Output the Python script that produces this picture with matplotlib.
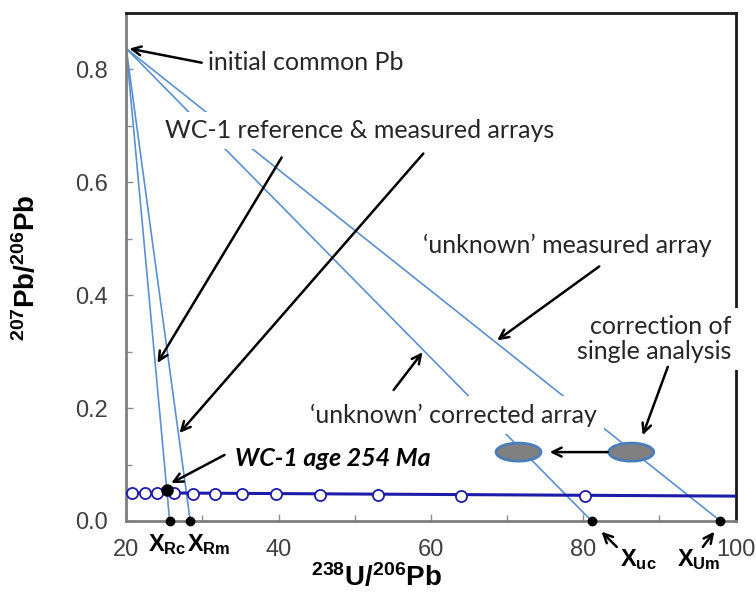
import matplotlib
matplotlib.use("Agg")
import matplotlib.pyplot as plt
from matplotlib.patches import Ellipse

plt.rcParams['mathtext.fontset'] = 'custom'
plt.rcParams['mathtext.rm'] = 'Liberation Sans'
plt.rcParams['mathtext.bf'] = 'Liberation Sans:bold'
plt.rcParams['mathtext.it'] = 'Liberation Sans:italic'

# data
common_pb = (20.0, 0.837)
array_names = ['WC-1 corrected', 'WC-1 measured', 'unknown corrected', 'unknown measured']
array_intercepts = [25.7, 28.4, 81.1, 98.0]

concordia_x = [20.0, 20.8, 22.4, 24.1, 26.3, 28.8, 31.7, 35.2, 39.7, 45.4, 53.1, 64.0, 80.2, 100.0]
concordia_y = [0.050, 0.050, 0.050, 0.049, 0.049, 0.048, 0.048, 0.047, 0.047, 0.046, 0.046, 0.045, 0.045, 0.044]
age_point = (25.3, 0.055)

ellipse_x = [71.5, 86.3]
ellipse_y = [0.122, 0.122]
ellipse_w = 5.9
ellipse_h = 0.032

xticks = [20, 40, 60, 80, 100]
yticks = [0.0, 0.2, 0.4, 0.6, 0.8]

line_blue = '#5b8fd0'
conc_blue = '#1c1ca8'
txt_col = '#262626'
ann_font = 'Lato'

fig = plt.figure(figsize=(7.56, 5.92), dpi=100)
ax = fig.add_axes([0.167, 0.12, 0.806, 0.858])
ax.set_xlim(20, 100)
ax.set_ylim(0, 0.9)

# mixing arrays from initial common Pb to the x-axis
for xi in array_intercepts:
    ax.plot([common_pb[0], xi], [common_pb[1], 0.0], color=line_blue, lw=1.2, zorder=2)
ax.plot(array_intercepts, [0.0] * len(array_intercepts), 'o', color='black', ms=6,
        clip_on=False, zorder=6)

# concordia with age ticks
ax.plot([concordia_x[0], concordia_x[-1]], [concordia_y[0], concordia_y[-1]],
        color=conc_blue, lw=2.2, zorder=3)
ax.plot(concordia_x[1:-1], concordia_y[1:-1], 'o', mfc='white', mec=conc_blue,
        mew=1.3, ms=8, zorder=4)
ax.plot(*age_point, 'o', color='black', ms=8, zorder=5)

for ex, ey in zip(ellipse_x, ellipse_y):
    ax.add_patch(Ellipse((ex, ey), ellipse_w, ellipse_h, fc='#808080',
                         ec='#4a7ebb', lw=2, zorder=5))

# annotation text with white boxes (hides the lines underneath)
box = dict(fc='white', ec='none', pad=5)
tkw = dict(fontsize=18, color=txt_col, family=ann_font, zorder=7, bbox=box)
ax.text(30.7, 0.812, 'initial common Pb', ha='left', va='center', **tkw)
ax.text(50.6, 0.692, 'WC-1 reference & measured arrays', ha='center', va='center', **tkw)
ax.text(77.9, 0.488, '\u2018unknown\u2019 measured array', ha='center', va='center', **tkw)
ax.text(63.0, 0.188, '\u2018unknown\u2019 corrected array', ha='center', va='center', **tkw)
ax.text(99.4, 0.322, 'correction of\nsingle analysis', ha='right', va='center',
        multialignment='right', linespacing=1.1, **tkw)
ax.text(34.3, 0.110, 'WC-1 age 254 Ma', ha='left', va='center', fontsize=18,
        color='black', family=ann_font, weight='bold', style='italic', zorder=7, bbox=box)

# arrows: (tail, head)
arrows = [
    ((29.9, 0.812), (20.4, 0.837)),
    ((40.4, 0.644), (24.1, 0.280)),
    ((59.0, 0.651), (27.0, 0.156)),
    ((82.1, 0.451), (68.7, 0.320)),
    ((55.1, 0.232), (58.9, 0.299)),
    ((91.1, 0.273), (87.8, 0.152)),
    ((32.9, 0.117), (25.9, 0.067)),
    ((83.2, 0.122), (75.6, 0.122)),
    ((84.4, -0.046), (82.4, -0.019)),
    ((95.7, -0.046), (97.2, -0.019)),
]
for tail, head in arrows:
    ax.annotate('', xy=head, xytext=tail, annotation_clip=False,
                arrowprops=dict(arrowstyle='->,head_length=0.65,head_width=0.32',
                                lw=1.8, color='black', shrinkA=0, shrinkB=0),
                zorder=8)

# intercept labels
xkw = dict(fontsize=17, color='black', ha='center', va='center', annotation_clip=False)
ax.annotate(r'$\mathbf{X_{Rc}}$', xy=(25.4, -0.041), **xkw)
ax.annotate(r'$\mathbf{X_{Rm}}$', xy=(30.9, -0.041), **xkw)
ax.annotate(r'$\mathbf{X_{uc}}$', xy=(87.2, -0.069), **xkw)
ax.annotate(r'$\mathbf{X_{Um}}$', xy=(95.2, -0.069), **xkw)

# axes styling
ax.set_xticks(xticks)
ax.set_xticks([30, 50, 70, 90], minor=True)
ax.set_yticks(yticks)
ax.set_yticks([0.1, 0.3, 0.5, 0.7], minor=True)
ax.set_yticklabels(['%.1f' % v for v in yticks])
ax.tick_params(which='both', direction='in', color='#8c8c8c', width=1,
               labelsize=17, labelcolor='#404040')
ax.tick_params(which='major', length=5)
ax.tick_params(which='minor', length=4)
ax.tick_params(axis='y', pad=13)
ax.tick_params(axis='x', pad=13)
for lab in ax.get_xticklabels() + ax.get_yticklabels():
    lab.set_family('Liberation Sans')
ax.spines['left'].set_color('#7f7f7f')
ax.spines['bottom'].set_color('#7f7f7f')
ax.spines['top'].set_color('#1a1a1a')
ax.spines['right'].set_color('#1a1a1a')
for s in ax.spines.values():
    s.set_linewidth(2)

fig.text(376 / 756, 1 - 578 / 592, r'$\mathbf{^{238}U/^{206}Pb}$', fontsize=20,
         ha='center', va='center')
fig.text(27 / 756, 1 - 268 / 592, r'$\mathbf{^{207}Pb/^{206}Pb}$', fontsize=20,
         ha='center', va='center', rotation=90)

fig.savefig('out.png', dpi=100)
